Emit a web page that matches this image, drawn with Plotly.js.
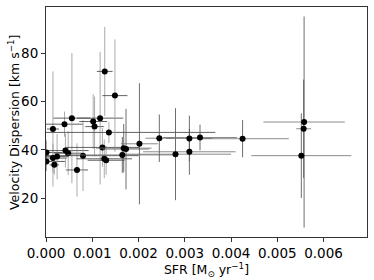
<!DOCTYPE html>
<html>
<head>
<meta charset="utf-8">
<script src="https://cdn.plot.ly/plotly-3.0.1.min.js"></script>
<style>html,body{margin:0;padding:0;background:#fff;}#chart{width:374px;height:280px;}</style>
</head>
<body>
<div id="chart"></div>
<script>
// Low-SFR group
const sfrA    = [0.00001, 0.00001, 0.00015, 0.00015, 0.00018, 0.00024, 0.00040, 0.00042, 0.00048, 0.00056, 0.00067, 0.00080, 0.00102, 0.00105, 0.00117, 0.00122, 0.00126, 0.00130, 0.00127, 0.00136, 0.00149];
const sfrErrA = [0.00035, 0.00040, 0.00013, 0.00030, 0.00010, 0.00025, 0.00040, 0.00050, 0.00030, 0.00040, 0.00024, 0.00120, 0.00030, 0.00020, 0.00050, 0.00080, 0.00060, 0.00040, 0.00017, 0.00230, 0.00027];
const sigA    = [38.9, 35.2, 48.6, 36.6, 33.8, 37.2, 50.6, 39.7, 38.6, 53.1, 31.7, 37.6, 51.7, 49.6, 53.1, 41.0, 36.3, 35.7, 72.4, 47.2, 62.4];
const sigErrA = [5.0, 4.0, 23.8, 6.0, 4.0, 9.4, 5.2, 7.0, 9.0, 26.9, 11.0, 14.6, 11.3, 12.4, 27.4, 8.0, 8.0, 6.0, 18.4, 4.4, 23.2];
// High-SFR group
const sfrB    = [0.00165, 0.00168, 0.00173, 0.00202, 0.00245, 0.00280, 0.00310, 0.00310, 0.00333, 0.00425, 0.00558, 0.00557, 0.00552];
const sfrErrB = [0.00120, 0.00060, 0.00050, 0.00040, 0.00030, 0.00120, 0.00050, 0.00100, 0.00080, 0.00100, 0.00088, 0.00016, 0.00108];
const sigB    = [37.9, 40.7, 40.3, 42.5, 44.8, 38.2, 44.7, 39.2, 45.1, 44.6, 51.5, 48.7, 37.6];
const sigErrB = [7.4, 10.0, 16.6, 25.0, 9.8, 19.0, 9.4, 9.5, 5.3, 7.7, 43.6, 20.3, 17.5];

const xTicks = [0, 0.001, 0.002, 0.003, 0.004, 0.005, 0.006];
const yTicks = [20, 40, 60, 80];

function trace(x, xe, y, ye, cx, cy) {
  return {
    type: 'scatter', mode: 'markers', x: x, y: y,
    marker: {color: '#000', size: 6},
    error_x: {type: 'data', array: xe, visible: true, color: cx, thickness: 1, width: 0},
    error_y: {type: 'data', array: ye, visible: true, color: cy, thickness: 1, width: 0},
    showlegend: false, hoverinfo: 'skip'
  };
}

const data = [
  trace(sfrA, sfrErrA, sigA, sigErrA, 'rgba(70,70,70,0.85)', 'rgba(150,150,150,0.8)'),
  trace(sfrB, sfrErrB, sigB, sigErrB, 'rgba(110,110,110,0.8)', 'rgba(85,85,85,0.85)')
];

const font = {family: 'DejaVu Sans', size: 12.5, color: '#000'};
const tfont = {family: 'DejaVu Sans', size: 13.5, color: '#000'};
const layout = {
  width: 374, height: 280,
  margin: {l: 46, r: 7, t: 7, b: 43},
  paper_bgcolor: '#fff', plot_bgcolor: '#fff',
  font: font,
  xaxis: {
    range: [0, 0.00694], tickvals: xTicks, ticktext: xTicks.map(v => v.toFixed(3)),
    showgrid: false, zeroline: false, showline: true, mirror: true,
    linecolor: '#333', linewidth: 1, ticks: 'outside', ticklen: 4, tickcolor: '#333',
    tickfont: tfont, automargin: false,
    title: {text: 'SFR [M<sub>⊙</sub> yr<sup>−1</sup>]', font: font, standoff: 4}
  },
  yaxis: {
    range: [4, 99], tickvals: yTicks,
    showgrid: false, zeroline: false, showline: true, mirror: true,
    linecolor: '#333', linewidth: 1, ticks: 'outside', ticklen: 4, tickcolor: '#333',
    tickfont: tfont, automargin: false,
    title: {text: ''}
  },
  annotations: [{
    xref: 'paper', yref: 'paper', x: 0, y: 0.5, xshift: -32,
    xanchor: 'center', yanchor: 'middle', textangle: -90, showarrow: false,
    text: 'Velocity Dispersion [km s<sup>−1</sup>]', font: font
  }]
};

Plotly.newPlot('chart', data, layout, {displayModeBar: false, staticPlot: true});
</script>
</body>
</html>
